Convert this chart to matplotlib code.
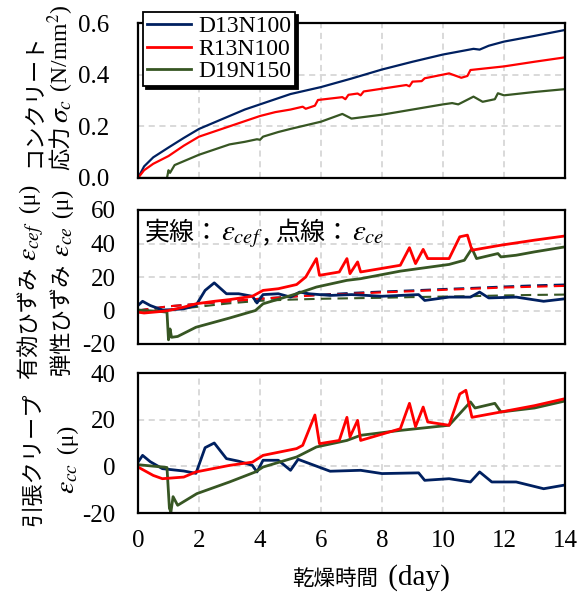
import matplotlib
matplotlib.use("Agg")
import matplotlib.pyplot as plt

plt.rcParams['font.family'] = ['Liberation Serif', 'Noto Sans CJK JP']
plt.rcParams['mathtext.fontset'] = 'stix'
plt.rcParams['axes.unicode_minus'] = False

# ---------------- data ----------------
series_names = ["D13N100", "R13N100", "D19N150"]
series_colors = ["#002060", "#FF0000", "#375623"]

x_ticks = [0, 2, 4, 6, 8, 10, 12, 14]
x_ticklabels = ["0", "2", "4", "6", "8", "10", "12", "14"]
y1_ticks = [0.0, 0.2, 0.4, 0.6]
y1_ticklabels = ["0.0", "0.2", "0.4", "0.6"]
y2_ticks = [-20, 0, 20, 40, 60]
y2_ticklabels = ["-20", "0", "20", "40", "60"]
y3_ticks = [-20, 0, 20, 40]
y3_ticklabels = ["-20", "0", "20", "40"]

# top panel: concrete stress (N/mm2)
sig_d13_day = [0, 0.2, 0.5, 1, 1.5, 2, 2.5, 3, 3.5, 4, 4.5, 5, 6, 7, 8, 9, 10, 11, 11.2, 11.5, 12, 13, 14]
sig_d13 = [0, 0.045, 0.08, 0.118, 0.155, 0.19, 0.215, 0.24, 0.265, 0.285, 0.305, 0.325, 0.352, 0.385,
           0.42, 0.45, 0.478, 0.5, 0.497, 0.512, 0.528, 0.55, 0.573]
sig_r13_day = [0, 0.2, 0.5, 1, 1.5, 2, 2.5, 3, 3.5, 4, 4.5, 5, 5.4, 5.5, 5.8, 5.9, 6.7, 6.8, 6.9, 7.2, 7.3,
               7.4, 8.8, 8.9, 9.0, 9.3, 9.4, 10.2, 10.6, 10.8, 10.9, 12, 13, 14]
sig_r13 = [0, 0.03, 0.055, 0.085, 0.125, 0.16, 0.18, 0.2, 0.22, 0.24, 0.255, 0.265, 0.276, 0.268, 0.28,
           0.302, 0.313, 0.305, 0.322, 0.327, 0.32, 0.335, 0.36, 0.355, 0.373, 0.375, 0.386, 0.405,
           0.388, 0.395, 0.418, 0.432, 0.45, 0.467]
sig_d19_day = [0, 0.95, 1.0, 1.05, 1.2, 1.5, 2, 2.5, 3, 3.5, 3.9, 4.0, 4.1, 4.6, 5, 6, 6.7, 7.0, 8, 9, 10,
               10.3, 10.5, 11.0, 11.3, 11.7, 11.8, 12, 13, 14]
sig_d19 = [0, 0, 0.03, 0.02, 0.05, 0.065, 0.09, 0.11, 0.13, 0.14, 0.15, 0.148, 0.16, 0.178, 0.19, 0.218,
           0.248, 0.23, 0.245, 0.265, 0.285, 0.29, 0.285, 0.315, 0.295, 0.305, 0.328, 0.32, 0.333, 0.344]

# middle panel: effective strain (solid)
cef_d13_day = [0, 0.15, 0.4, 0.8, 1.1, 1.5, 1.9, 2.2, 2.5, 2.9, 3.3, 3.75, 3.9, 4.1, 4.6, 5.0, 5.3, 5.6,
               6.3, 7.0, 8.0, 9.2, 9.4, 10.2, 10.9, 11.2, 11.5, 12.4, 13.3, 14]
cef_d13 = [3, 5.5, 3, 0.3, 0.5, 1, 3, 12, 16.5, 10, 10, 8.5, 4.5, 9.5, 10, 8, 11, 10, 9, 9.5, 8.5, 9.5,
           6, 8, 8, 11, 7.5, 8, 5.5, 7]
cef_r13_day = [0, 0.2, 0.8, 1.0, 1.5, 1.9, 2.5, 3.0, 3.75, 4.1, 4.6, 5.2, 5.5, 5.85, 5.95, 6.6, 6.85,
               6.95, 7.2, 7.3, 8.6, 8.9, 9.1, 9.35, 9.5, 10.2, 10.55, 10.8, 10.95, 11.9, 13, 14]
cef_r13 = [-1, -1.5, -0.5, 0, 2, 4, 5.5, 6.5, 8.5, 12, 13, 15.5, 20, 31, 21, 23, 31, 22, 29, 23, 27, 37.5,
           28, 36.5, 31, 31, 44, 45, 36, 39, 42, 44.5]
cef_d19_day = [0, 0.8, 0.95, 1.0, 1.05, 1.1, 1.3, 1.9, 2.5, 3.0, 3.85, 4.1, 5.2, 5.85, 6.85, 7.3, 8.6,
               10.2, 10.7, 10.95, 11.1, 11.8, 11.9, 12.4, 13, 14]
cef_d19 = [0.3, -0.7, -1, -17.5, -11, -16, -15.5, -10, -7, -4.5, 0, 4, 10, 14, 18, 19, 23.5, 27.5, 30,
           37, 31, 34, 32, 33, 35, 38]

# middle panel: elastic strain (dashed)
ce_day = [0, 1, 2, 3, 4, 5, 6, 7, 8, 9, 10, 11, 12, 13, 14]
ce_d13 = [0, 2.5, 4, 5.5, 7, 8.3, 9.5, 10.5, 11.3, 12, 12.8, 13.5, 14.3, 15, 15.5]
ce_r13 = [0, 2.5, 4, 5.5, 7, 8.2, 9.2, 10, 10.8, 11.5, 12.3, 13, 13.7, 14.2, 14.7]
ce_d19 = [0, 0.3, 2.3, 4.3, 5.8, 6.5, 7, 7.3, 7.6, 8, 8.3, 8.6, 9, 9.3, 9.5]

# bottom panel: tensile creep strain
cc_d13_day = [0, 0.15, 0.4, 0.8, 1.5, 1.9, 2.2, 2.5, 2.9, 3.3, 3.75, 3.9, 4.1, 4.6, 5.0, 5.25, 5.6, 6.3,
              7.3, 8.0, 9.2, 9.4, 10.2, 10.9, 11.2, 11.6, 12.4, 13.3, 14]
cc_d13 = [1.8, 4.7, 2, -1, -2, -3, 8, 10, 3.3, 2.2, 0.4, -2.4, 2.6, 2.6, -1.7, 3, 1.3, -2.1, -1.7, -3.1,
          -2.8, -6, -5.3, -6.7, -2.4, -6.7, -6.7, -9.6, -8]
cc_r13_day = [0, 0.5, 0.8, 1.5, 1.9, 3.0, 3.75, 4.1, 5.2, 5.4, 5.8, 5.95, 6.6, 6.85, 6.95, 7.2, 7.3, 8.6,
              8.9, 9.1, 9.35, 9.5, 10.2, 10.55, 10.75, 10.95, 11.9, 13, 14]
cc_r13 = [-0.3, -3.9, -5.3, -4.6, -2.4, 0.4, 1.8, 4.7, 7.6, 9, 22, 9.7, 11.1, 21, 12.6, 19.7, 11.1, 16.1,
          27, 17, 25.4, 19, 17.6, 31, 32.6, 21, 23.3, 26, 29]
cc_d19_day = [0, 0.8, 0.95, 1.03, 1.08, 1.15, 1.3, 1.93, 3.0, 3.85, 4.1, 5.2, 5.85, 6.85, 7.3, 8.6, 10.2,
              10.9, 11.05, 11.7, 11.9, 13, 14]
cc_d19 = [0.7, -0.3, -0.5, -18, -19.5, -13, -16.7, -11.7, -6.7, -2.4, -0.3, 4, 8.3, 11.1, 13.3, 15.4,
          17.6, 27.6, 25, 27, 23.3, 25, 28]

# ---------------- figure ----------------
W, H = 585, 597
fig = plt.figure(figsize=(W / 100, H / 100), dpi=100)
ax1 = fig.add_axes([138 / W, 1 - 178 / H, 427 / W, 155 / H])
ax2 = fig.add_axes([138 / W, 1 - 344 / H, 427 / W, 134 / H])
ax3 = fig.add_axes([138 / W, 1 - 513 / H, 427 / W, 140 / H])

grid_kw = dict(color="#D0D0D0", linestyle=(0, (4, 3)), linewidth=1.1)
for ax, yt, ytl, ylim, pad in [(ax1, y1_ticks, y1_ticklabels, (0, 0.6), 21),
                               (ax2, y2_ticks, y2_ticklabels, (-20, 60), 16),
                               (ax3, y3_ticks, y3_ticklabels, (-20, 40), 16)]:
    ax.set_xlim(0, 14)
    ax.set_ylim(*ylim)
    ax.set_yticks(yt)
    ax.set_yticklabels(ytl)
    ax.set_xticks(x_ticks)
    ax.grid(True, **grid_kw)
    ax.set_axisbelow(True)
    ax.tick_params(axis='y', which='major', length=0, labelsize=18, pad=pad)
    ax.tick_params(axis='x', which='major', length=0, labelsize=18, pad=12)
    for s in ax.spines.values():
        s.set_linewidth(1.6)
        s.set_color('black')

ax1.set_xticklabels([])
ax2.set_xticklabels([])
ax3.set_xticklabels(x_ticklabels)

# top
top_data = [(sig_d13_day, sig_d13), (sig_r13_day, sig_r13), (sig_d19_day, sig_d19)]
handles = []
for (d, v), c, n in zip(top_data, series_colors, series_names):
    h, = ax1.plot(d, v, color=c, linewidth=1.6, label=n)
    handles.append(h)

# middle
ce_data = [ce_d13, ce_r13, ce_d19]
cef_data = [(cef_d13_day, cef_d13), (cef_r13_day, cef_r13), (cef_d19_day, cef_d19)]
for order in [2, 0, 1]:
    ax2.plot(ce_day, ce_data[order], color=series_colors[order], linewidth=1.5, linestyle=(0, (5, 3)))
for order in [0, 2, 1]:
    d, v = cef_data[order]
    ax2.plot(d, v, color=series_colors[order], linewidth=2.0)

# bottom
cc_data = [(cc_d13_day, cc_d13), (cc_d19_day, cc_d19), (cc_r13_day, cc_r13)]
for (d, v), c in zip(cc_data, [series_colors[0], series_colors[2], series_colors[1]]):
    ax3.plot(d, v, color=c, linewidth=2.0)

# legend
leg = ax1.legend(handles=handles, loc='upper left', bbox_to_anchor=(143 / W, 1 - 12 / H),
                 bbox_transform=fig.transFigure, borderaxespad=0, fancybox=False,
                 framealpha=1, edgecolor='black', fontsize=17, handlelength=1.9,
                 handletextpad=0.3, labelspacing=0.05, borderpad=0.15,
                 shadow={'color': 'black', 'alpha': 1})
leg.get_frame().set_linewidth(1.3)
for lh in leg.get_lines():
    lh.set_linewidth(2.0)

# ---------------- mixed-font text helpers ----------------
JP = 'Noto Sans CJK JP'
SER = 'Liberation Serif'
cjk = dict(family=JP, fontsize=16)
ser = dict(family=SER, fontsize=17)
mth = dict(family=SER, fontsize=20)

groups = []


def chain(pieces, x_px, y_px, rotation, center):
    """pieces laid out along the baseline; x_px / y_px in top-origin pixels."""
    texts = []
    for i, piece in enumerate(pieces):
        s, kw = piece[0], piece[1]
        gap = piece[2] if len(piece) > 2 else 1.5
        if i == 0:
            t = fig.text(x_px / W, 1 - y_px / H, s, rotation=rotation, rotation_mode='anchor',
                         ha='left', va='baseline', **kw)
        else:
            prev = texts[-1]
            if rotation == 90:
                t = ax3.annotate(s, xy=(x_px / W, 1.0), xycoords=('figure fraction', prev),
                                 xytext=(0, gap), textcoords='offset points', rotation=90,
                                 rotation_mode='anchor', ha='left', va='baseline',
                                 annotation_clip=False, **kw)
            else:
                t = ax3.annotate(s, xy=(1.0, 1 - y_px / H), xycoords=(prev, 'figure fraction'),
                                 xytext=(gap, 0), textcoords='offset points', rotation=0,
                                 rotation_mode='anchor', ha='left', va='baseline',
                                 annotation_clip=False, **kw)
        texts.append(t)
    groups.append((texts, rotation, center))


# y labels (two lines each)
chain([("コンクリート", cjk)], 41, 0, 90, 100)
chain([("応力", cjk), (r"$\sigma_c$", mth), (" (N/mm$^2$)", ser)], 68, 0, 90, 87)
chain([("有効ひずみ ", cjk), (r"$\varepsilon_{cef}$", mth), (" (μ)", ser)], 36, 0, 90, 282)
chain([("弾性ひずみ ", cjk), (r"$\varepsilon_{ce}$", mth), (" (μ)", ser)], 69, 0, 90, 283)
chain([("引張クリープ", cjk)], 39, 0, 90, 459)
chain([(r"$\varepsilon_{cc}$", mth), (" (μ)", ser)], 74, 0, 90, 460)

# x label
chain([("乾燥時間", dict(family=JP, fontsize=15.5)), (" (day)", dict(family=SER, fontsize=21))],
      0, 585, 0, 371)

# annotation inside middle panel
chain([("実線：", dict(family=JP, fontsize=18)),
       (r"$\varepsilon_{cef}$", dict(family=SER, fontsize=21), 1.0),
       (", ", dict(family=JP, fontsize=18), 0.0),
       ("点線：", dict(family=JP, fontsize=18), 0.0),
       (r"$\varepsilon_{ce}$", dict(family=SER, fontsize=21), 1.0)], 145, 240, 0, None)

fig.canvas.draw()
renderer = fig.canvas.get_renderer()
for texts, rot, center in groups:
    if center is None:
        continue
    bbs = [t.get_window_extent(renderer) for t in texts]
    first = texts[0]
    fx, fy = first.get_position()
    if rot == 90:
        lo = min(b.y0 for b in bbs)
        hi = max(b.y1 for b in bbs)
        target = H - center
        first.set_position((fx, fy + (target - (lo + hi) / 2) / H))
    else:
        lo = min(b.x0 for b in bbs)
        hi = max(b.x1 for b in bbs)
        first.set_position((fx + (center - (lo + hi) / 2) / W, fy))

fig.savefig("out.png", dpi=100)
